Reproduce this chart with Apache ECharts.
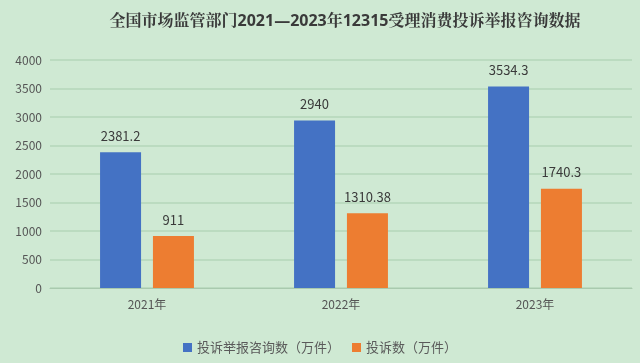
<!DOCTYPE html>
<html><head><meta charset="utf-8">
<script src="https://cdn.jsdelivr.net/npm/echarts@6/dist/echarts.min.js"></script>
<style>html,body{margin:0;padding:0;background:#cfe9d3;}#c{width:640px;height:363px;}</style>
</head><body><div id="c"></div>
<script>
const categories = ['2021年', '2022年', '2023年'];
const consultValues = [2381.2, 2940, 3534.3];
const complaintValues = [911, 1310.38, 1740.3];
const consultLabels = ['2381.2', '2940', '3534.3'];
const complaintLabels = ['911', '1310.38', '1740.3'];
const seriesNames = ['投诉举报咨询数（万件）', '投诉数（万件）'];

const chart = echarts.init(document.getElementById('c'));
const font = '"Noto Sans CJK SC", "Open Sans", sans-serif';
chart.setOption({
  backgroundColor: '#cfe9d3',
  animation: false,
  title: {
    text: '全国市场监管部门2021—2023年12315受理消费投诉举报咨询数据',
    left: 340, top: 8, textAlign: 'center',
    textStyle: { fontSize: 16, fontWeight: 'bold', color: '#3a3a3a', fontFamily: '"Open Sans", "Noto Serif CJK SC", "Noto Sans CJK SC", serif' }
  },
  legend: {
    bottom: 4, left: 'center', itemWidth: 9, itemHeight: 9, itemGap: 12,
    icon: 'rect',
    textStyle: { fontSize: 13, color: '#5a5a5a', fontFamily: font },
    data: seriesNames
  },
  grid: { left: 50, right: 8, top: 60, bottom: 75, containLabel: false },
  xAxis: {
    type: 'category', data: categories,
    axisLine: { show: true, lineStyle: { color: '#a9c9ae' } },
    axisTick: { show: false },
    axisLabel: { color: '#555', fontSize: 12, fontFamily: font, margin: 10 }
  },
  yAxis: {
    type: 'value', min: 0, max: 4000, interval: 500,
    axisLine: { show: false }, axisTick: { show: false },
    axisLabel: { color: '#555', fontSize: 12, fontFamily: font, margin: 8, formatter: v => String(v) },
    splitLine: { lineStyle: { color: '#b4d6ba', width: 1.5 } }
  },
  series: [
    {
      name: seriesNames[0], type: 'bar', data: consultValues, barWidth: 41, barGap: '29%',
      itemStyle: { color: '#4472c4' },
      label: { show: true, position: 'top', distance: 10, color: '#3a3a3a', fontSize: 13, fontFamily: font,
        formatter: p => consultLabels[p.dataIndex] }
    },
    {
      name: seriesNames[1], type: 'bar', data: complaintValues, barWidth: 41,
      itemStyle: { color: '#ed7d31' },
      label: { show: true, position: 'top', distance: 10, color: '#3a3a3a', fontSize: 13, fontFamily: font,
        formatter: p => complaintLabels[p.dataIndex] }
    }
  ]
});
</script></body></html>
